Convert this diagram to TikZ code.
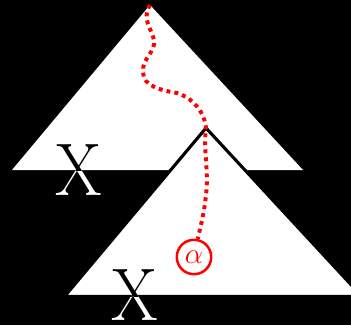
\documentclass[tikz,border=0pt]{standalone}
\usepackage{xcolor}
\usepackage{tikz}
\usetikzlibrary{calc}
\definecolor{myred}{RGB}{255,0,0}
\tikzset{
  tri/.style={fill=white, draw=black, line width=2.2pt},
  bigx/.style={font=\fontsize{53}{53}\selectfont, inner sep=0pt},
  wiggle/.style={color=myred, line width=2.8pt, dash pattern=on 2.8pt off 2.9pt},
  alphanode/.style={circle, draw=myred, fill=white, line width=1.8pt,
    minimum size=0.86cm, inner sep=0pt, text=myred,
    font=\fontsize{21}{21}\selectfont}
}

\begin{document}
\begin{tikzpicture}[x=0.025cm, y=-0.025cm]
  % --- Background ---
  \fill[black] (0,0) rectangle (351,325);
  \useasboundingbox (0,0) rectangle (351,325);

  % --- Upper triangle ---
  \coordinate (top1) at (150,5);
  \coordinate (left1) at (12,170);
  \coordinate (right1) at (303,170);
  \fill[white] (left1) -- (top1) -- (right1) -- cycle;
  \node[bigx, text=white] (x1) at (79,170.5) {\scalebox{0.9}[1]{X}};
  \begin{scope}
    \clip (left1) -- (top1) -- (right1) -- cycle;
    \node[bigx, text=black] at (x1) {\scalebox{0.9}[1]{X}};
  \end{scope}

  % --- Lower triangle ---
  \coordinate (top2) at (206,128);
  \coordinate (left2) at (64.5,296.5);
  \coordinate (right2) at (362,296.5);
  \draw[tri] (left2) -- (top2) -- (right2) -- cycle;
  \node[bigx, text=white] (x2) at (135,295.5) {\scalebox{0.9}[1]{X}};
  \begin{scope}
    \clip (left2) -- (top2) -- (right2) -- cycle;
    \node[bigx, text=black] at (x2) {\scalebox{0.9}[1]{X}};
  \end{scope}

  % --- Path down to alpha ---
  \node[alphanode] (alpha) at (194,257) {$\alpha$};
  \draw[wiggle] (top1)
    .. controls (142,20) and (150,25) .. (154,40)
    .. controls (156,52) and (142,58) .. (143,72)
    .. controls (143,86) and (160,90) .. (177,93)
    .. controls (188,96) and (204,108) .. (top2)
    .. controls (203,150) and (209,170) .. (206,195)
    .. controls (204,215) and (200,228) .. (alpha);
\end{tikzpicture}
\end{document}
